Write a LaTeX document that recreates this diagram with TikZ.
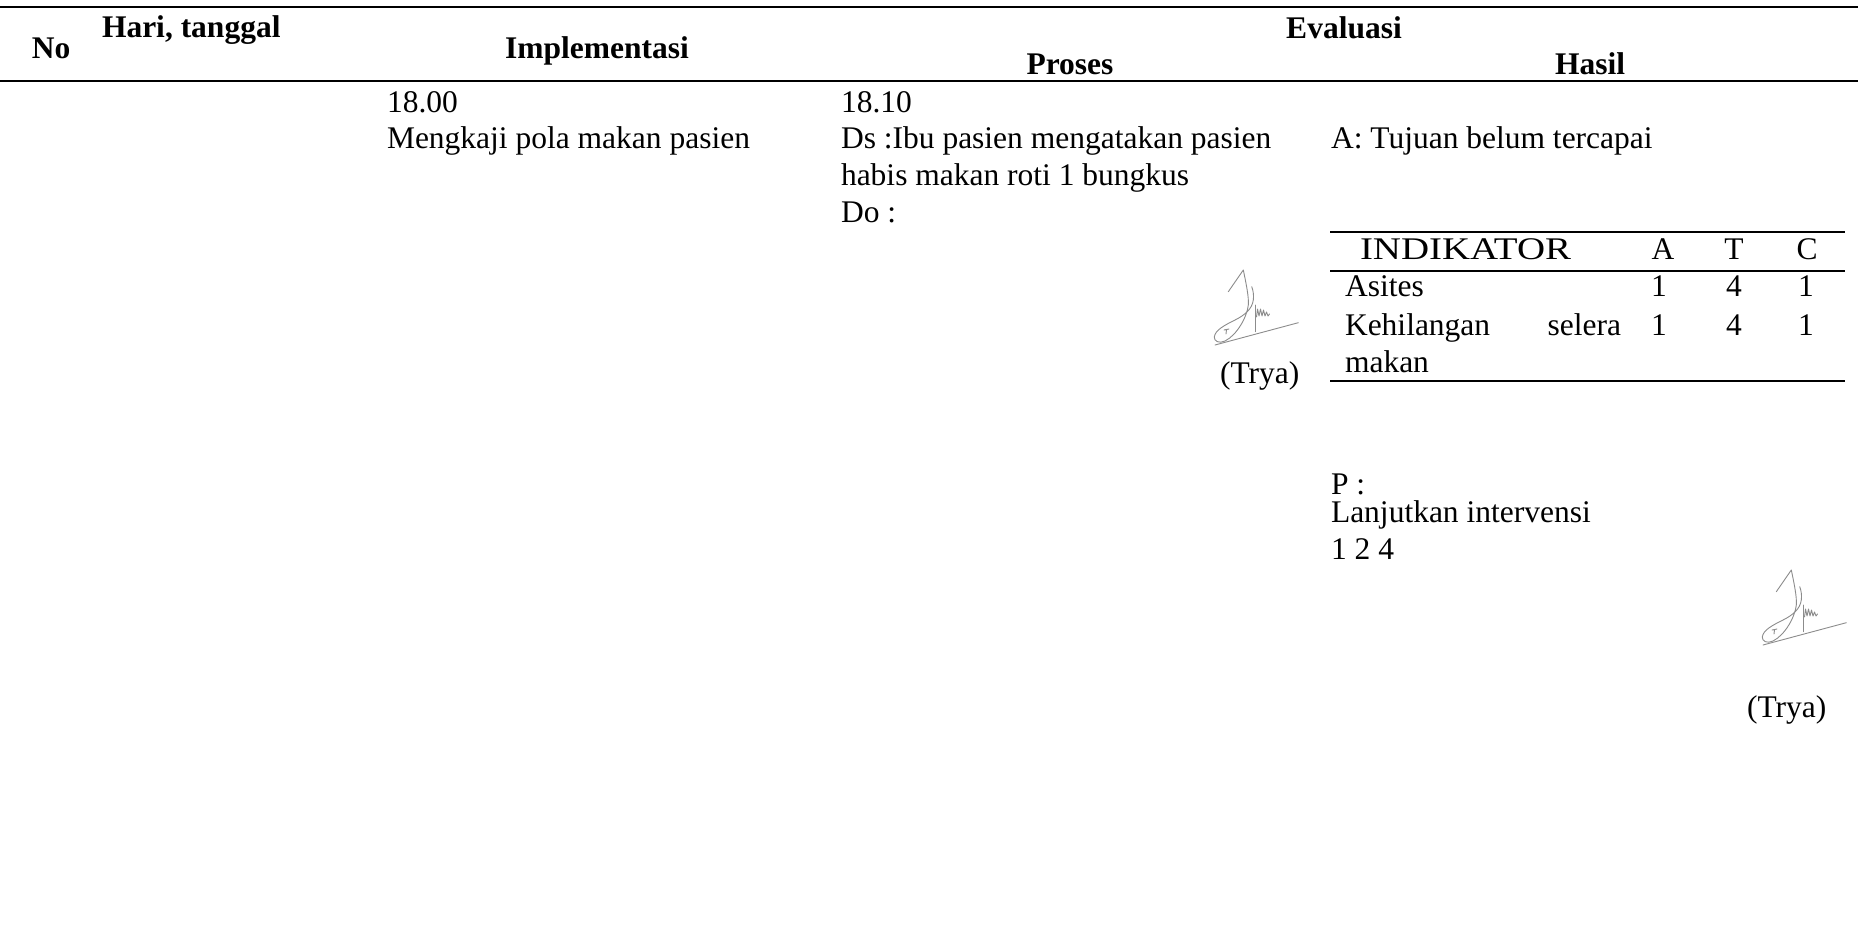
\documentclass[tikz,border=0pt]{standalone}
\usepackage{fontspec}
\usepackage{graphicx}
\setmainfont{Liberation Serif}
\begin{document}
\begin{tikzpicture}[x=0.5pt,y=-0.5pt,
  txt/.style={inner sep=0pt,outer sep=0pt,anchor=base west,
    font=\fontsize{15.75pt}{18.35pt}\selectfont},
  ctxt/.style={txt,anchor=base},
  hdr/.style={ctxt,font=\fontsize{15.75pt}{18.35pt}\selectfont\bfseries},
  rulethick/.style={line width=1pt},
  ink/.style={draw=black!45,line width=0.45pt,line cap=round,line join=round},
  paraf/.pic={
    % handwritten initials with underline
    \draw[ink] (13.3,-53.3) -- (28.3,-75)
      .. controls (31,-62) and (34,-48) .. (33.3,-40)
      .. controls (32,-28) and (22,-10) .. (10,-4)
      .. controls (4,-1) and (-1,-4) .. (-0.7,-8)
      .. controls (0,-15) and (10,-20) .. (20,-25)
      .. controls (30,-30) and (37,-36) .. (38.3,-45)
      .. controls (39,-50) and (38,-55) .. (36.7,-58.3);
    \draw[ink] (40,-40) -- (40,-13.3);
    \draw[ink] (41.5,-28) -- (42.5,-36) -- (44,-29) -- (45.5,-36) -- (47,-29)
      -- (48.5,-35) -- (50,-29) -- (51.5,-33) -- (53,-29) -- (54.5,-31);
    \draw[ink] (9,-15) -- (14,-16) (11.5,-15.5) -- (11,-11);
    \draw[ink] (0,0) -- (83.3,-22.3);
  }
]
\useasboundingbox (0,0) rectangle (1858,926);
\fill[white] (0,0) rectangle (1858,926);

% header rules
\draw[rulethick] (0,7) -- (1858,7);
\draw[rulethick] (0,81) -- (1858,81);

% header labels
\node[hdr,anchor=base west] (no) at (32,58.5) {No};
\node[hdr,anchor=base west] (hari) at (102,37.5) {Hari, tanggal};
\node[hdr] (impl) at (597,58.5) {Implementasi};
\node[hdr] (eval) at (1344,39) {Evaluasi};
\node[hdr] (proses) at (1070,74) {Proses};
\node[hdr] (hasil) at (1590,74) {Hasil};

% implementation column
\node[txt] (jam1) at (387,112) {18.00};
\node[txt] (imp1) at (387,148) {Mengkaji pola makan pasien};

% process column
\node[txt] (jam2) at (841,112) {18.10};
\node[txt] (ds1) at (841,148) {Ds :Ibu pasien mengatakan pasien};
\node[txt] (ds2) at (841,185) {habis makan roti 1 bungkus};
\node[txt] (dobj) at (841,222) {Do :};
\pic at (1215,345) {paraf};
\node[txt] (trya1) at (1220,383) {(Trya)};

% result column
\node[txt] (asess) at (1331,148) {A: Tujuan belum tercapai};

% indicator table
\draw[rulethick] (1330,232) -- (1845,232);
\draw[rulethick] (1330,271) -- (1845,271);
\draw[rulethick] (1330,381) -- (1845,381);
\node[txt] (ind) at (1360,259.5) {\scalebox{1.235}[1]{INDIKATOR}};
\node[ctxt] (colA) at (1663,259.5) {A};
\node[ctxt] (colT) at (1734,259.5) {T};
\node[ctxt] (colC) at (1807,259.5) {C};
\node[txt] (r1) at (1345,296) {Asites};
\node[ctxt] (r1a) at (1659,296) {1};
\node[ctxt] (r1t) at (1734,296) {4};
\node[ctxt] (r1c) at (1806,296) {1};
\node[txt] (r2) at (1345,335) {Kehilangan};
\node[txt,anchor=base east] (r2b) at (1621,335) {selera};
\node[ctxt] (r2a) at (1659,335) {1};
\node[ctxt] (r2t) at (1734,335) {4};
\node[ctxt] (r2c) at (1806,335) {1};
\node[txt] (r2d) at (1345,372.5) {makan};

% plan
\node[txt] (plan) at (1331,494) {P :};
\node[txt] (plan1) at (1331,522.5) {Lanjutkan intervensi};
\node[txt] (plan2) at (1331,559) {1 2 4};
\pic at (1763,645) {paraf};
\node[txt] (trya2) at (1747,717) {(Trya)};
\end{tikzpicture}
\end{document}
